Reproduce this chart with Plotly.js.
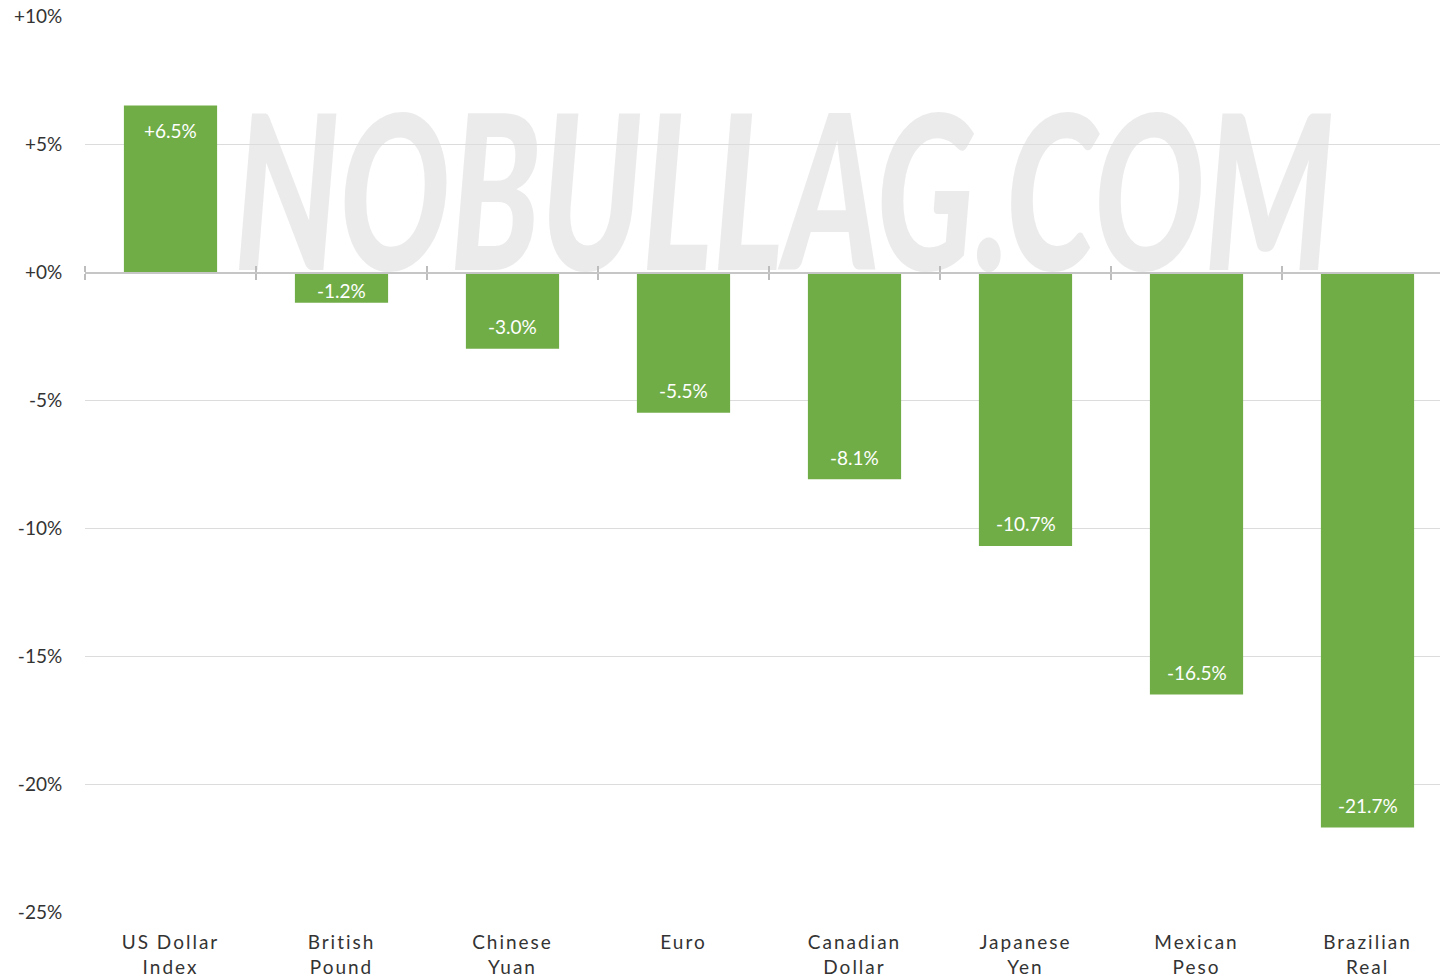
<!DOCTYPE html>
<html>
<head>
<meta charset="utf-8">
<script src="https://cdn.plot.ly/plotly-3.0.1.min.js"></script>
<style>
  html, body { margin: 0; padding: 0; width: 1440px; height: 980px; overflow: hidden; background: #fff; }
  #chart { width: 1460px; height: 980px; }
  .xtick text { letter-spacing: 2px; }
</style>
</head>
<body>
<div id="chart"></div>
<script>
const categories = ["US Dollar<br>Index", "British<br>Pound", "Chinese<br>Yuan", "Euro", "Canadian<br>Dollar", "Japanese<br>Yen", "Mexican<br>Peso", "Brazilian<br>Real"];
const changes = [6.5, -1.2, -3.0, -5.5, -8.1, -10.7, -16.5, -21.7];
const yTickVals = [10, 5, 0, -5, -10, -15, -20, -25];
const yTickText = ["+10%", "+5%", "+0%", "-5%", "-10%", "-15%", "-20%", "-25%"];
const yRange = [-25, 10];

const green = "#70ad47";
const fontFam = "Lato, 'Open Sans', sans-serif";

const W = 1460, H = 980;
const M = { l: 85, r: 7, t: 16, b: 68 };
const pxPerUnit = (H - M.t - M.b) / (yRange[1] - yRange[0]);

function fmt(v) { return (v >= 0 ? "+" : "") + v.toFixed(1) + "%"; }

const traces = [
  {
    type: "bar", x: categories, y: changes,
    marker: { color: green },
    width: 0.545,
    hoverinfo: "skip",
    xaxis: "x", yaxis: "y"
  },
  {
    type: "scatter", mode: "markers", x: categories, y: changes,
    marker: { opacity: 0 }, hoverinfo: "skip", showlegend: false,
    xaxis: "x2", yaxis: "y"
  },
  {
    type: "scatter", mode: "markers", x: categories, y: changes,
    marker: { opacity: 0 }, hoverinfo: "skip", showlegend: false,
    xaxis: "x3", yaxis: "y"
  }
];

const annotations = changes.map((v, i) => {
  const half = Math.abs(v) * pxPerUnit / 2;
  const inset = Math.min(v >= 0 ? 25 : 22, half - 3);
  return {
    x: categories[i], y: v, xref: "x", yref: "y",
    text: fmt(v), showarrow: false,
    yanchor: "middle",
    yshift: v >= 0 ? -inset : inset,
    font: { family: fontFam, size: 19, color: "#ffffff" }
  };
});

const wmSvg = '<svg xmlns="http://www.w3.org/2000/svg" width="1110" height="175" viewBox="0 0 1110 175">' +
  '<text x="4" y="168" font-family="Lato, DejaVu Sans, sans-serif" font-weight="900" font-style="italic" font-size="215" ' +
  'textLength="1100" lengthAdjust="spacingAndGlyphs" fill="#c8c8c8" fill-opacity="0.36">NOBULLAG.COM</text></svg>';

const zeroPos = (0 - yRange[0]) / (yRange[1] - yRange[0]);

const common2 = {
  type: "category", overlaying: "x", anchor: "free", position: zeroPos,
  range: [-0.5, categories.length - 0.5],
  tickson: "boundaries", ticklen: 6, tickcolor: "#bdbdbd", tickwidth: 1.2,
  showticklabels: false, showgrid: false, zeroline: false,
  showline: true, linecolor: "#c6c6c6", linewidth: 1.5, fixedrange: true
};

const layout = {
  width: W, height: H,
  margin: M,
  paper_bgcolor: "#ffffff", plot_bgcolor: "rgba(0,0,0,0)",
  showlegend: false,
  font: { family: fontFam, color: "#333333" },
  xaxis: {
    type: "category", range: [-0.5, categories.length - 0.5],
    showgrid: false, zeroline: false, showline: false,
    ticks: "outside", ticklen: 13, tickcolor: "rgba(0,0,0,0)",
    tickfont: { family: fontFam, size: 19, color: "#333333" },
    fixedrange: true
  },
  xaxis2: Object.assign({}, common2, { side: "bottom", ticks: "outside" }),
  xaxis3: Object.assign({}, common2, { side: "top", ticks: "outside" }),
  yaxis: {
    range: yRange, tickvals: yTickVals, ticktext: yTickText,
    showgrid: true, gridcolor: "#dcdcdc", gridwidth: 1,
    zeroline: false, showline: false,
    ticks: "outside", ticklen: 18, tickcolor: "rgba(0,0,0,0)",
    tickfont: { family: fontFam, size: 19, color: "#333333" },
    fixedrange: true
  },
  annotations: annotations,
  images: [{
    source: "data:image/svg+xml;charset=utf-8," + encodeURIComponent(wmSvg),
    xref: "paper", yref: "paper",
    x: (230 - 85) / 1368, y: (912 - 102) / 896,
    sizex: 1110 / 1368, sizey: 175 / 896,
    sizing: "stretch", xanchor: "left", yanchor: "top",
    layer: "below"
  }]
};

Plotly.newPlot("chart", traces, layout, { displayModeBar: false, staticPlot: true });
</script>
</body>
</html>
